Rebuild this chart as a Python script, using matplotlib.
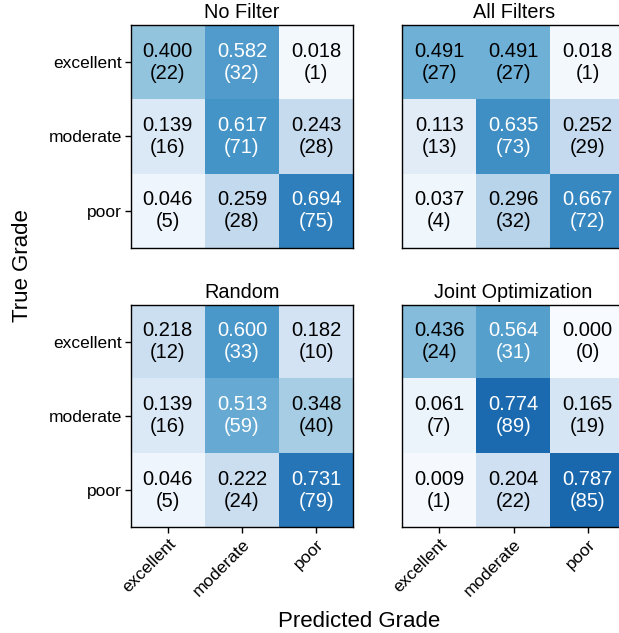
import numpy as np
import matplotlib
matplotlib.use("Agg")
import matplotlib.pyplot as plt

plt.rcParams['font.family'] = ['Liberation Sans', 'DejaVu Sans']

grades = ["excellent", "moderate", "poor"]
titles = ["No Filter", "All Filters", "Random", "Joint Optimization"]

counts_no_filter = [[22, 32, 1], [16, 71, 28], [5, 28, 75]]
counts_all_filters = [[27, 27, 1], [13, 73, 29], [4, 32, 72]]
counts_random = [[12, 33, 10], [16, 59, 40], [5, 24, 79]]
counts_joint = [[24, 31, 0], [7, 89, 19], [1, 22, 85]]

rates_no_filter = [[0.400, 0.582, 0.018], [0.139, 0.617, 0.243], [0.046, 0.259, 0.694]]
rates_all_filters = [[0.491, 0.491, 0.018], [0.113, 0.635, 0.252], [0.037, 0.296, 0.667]]
rates_random = [[0.218, 0.600, 0.182], [0.139, 0.513, 0.348], [0.046, 0.222, 0.731]]
rates_joint = [[0.436, 0.564, 0.000], [0.061, 0.774, 0.165], [0.009, 0.204, 0.787]]

all_counts = [counts_no_filter, counts_all_filters, counts_random, counts_joint]
all_rates = [rates_no_filter, rates_all_filters, rates_random, rates_joint]

W, H = 619, 633
fig = plt.figure(figsize=(W / 100, H / 100), dpi=100)

# panel boxes in pixels: left, top, width, height (right column runs off the canvas edge)
side = 222.6
boxes = [(130.7, 25.0, side, side), (402.3, 25.0, side, side),
         (130.7, 304.7, side, side), (402.3, 304.7, side, side)]

cmap = plt.get_cmap("Blues")
for i, (l, t, w, h) in enumerate(boxes):
    ax = fig.add_axes([l / W, 1 - (t + h) / H, w / W, h / H])
    rates = np.array(all_rates[i])
    counts = np.array(all_counts[i])
    ax.imshow(rates, cmap=cmap, vmin=0, vmax=1, aspect="auto", interpolation="nearest")
    for r in range(3):
        for c in range(3):
            v = rates[r, c]
            color = "white" if v > 0.5 else "black"
            ax.text(c, r, f"{v:.3f}\n({counts[r, c]})", ha="center", va="center",
                    fontsize=14.5, color=color)
    ax.set_title(titles[i], fontsize=14.3, pad=4.8)
    ax.set_xticks(range(3))
    ax.set_yticks(range(3))
    if i in (0, 2):
        ax.set_yticklabels(grades, fontsize=12.5)
    else:
        ax.set_yticks([])
    if i in (2, 3):
        ax.set_xticklabels(grades, fontsize=12.5, rotation=45, ha="right", rotation_mode="anchor")
    else:
        ax.set_xticks([])
    for s in ax.spines.values():
        s.set_linewidth(1.0)
    ax.tick_params(length=4, width=1, pad=2.5)

fig.text(22.5 / W, 1 - 265.7 / H, "True Grade", rotation=90, ha="center", va="center", fontsize=16)
fig.text(359.5 / W, 1 - 627 / H, "Predicted Grade", ha="center", va="baseline", fontsize=16)

fig.savefig("out.png", dpi=100)
